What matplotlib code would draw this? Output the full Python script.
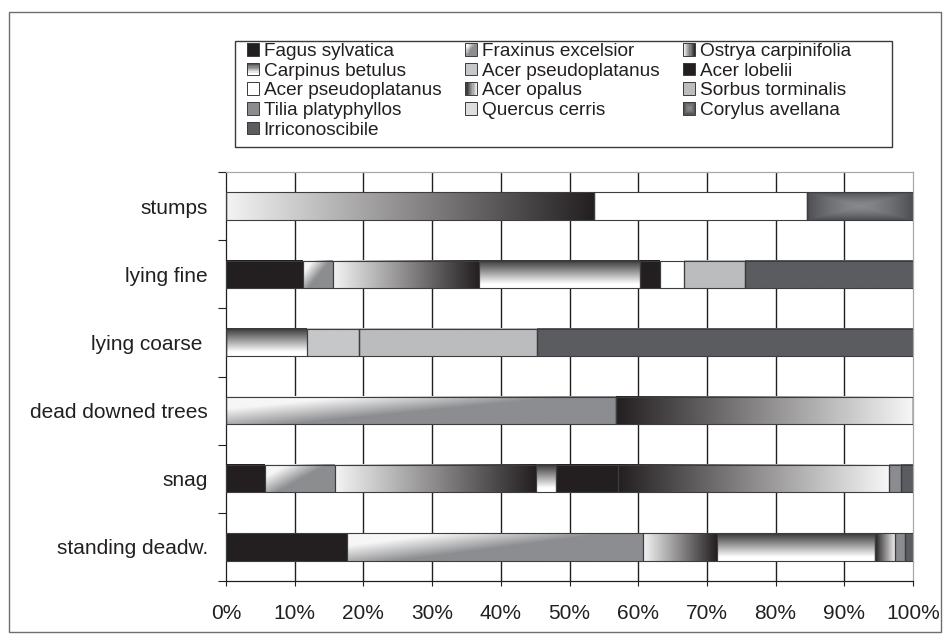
import numpy as np
import matplotlib
matplotlib.use('Agg')
import matplotlib.pyplot as plt
from matplotlib.patches import Rectangle
from matplotlib.colors import to_rgb
from matplotlib.legend_handler import HandlerBase


plt.rcParams['font.family'] = ['Liberation Sans', 'DejaVu Sans']

# ------------------------------------------------------------------------
#### Deadwood composition by species (% of volume)
categories = ['stumps', 'lying fine', 'lying coarse ', 'dead downed trees', 'snag', 'standing deadw.']

species = ['Fagus sylvatica', 'Fraxinus excelsior', 'Ostrya carpinifolia',
           'Carpinus betulus', 'Acer pseudoplatanus', 'Acer lobelii',
           'Acer pseudoplatanus', 'Acer opalus', 'Sorbus torminalis',
           'Tilia platyphyllos', 'Quercus cerris', 'Corylus avellana',
           'Irriconoscibile']

fagus          = [0.0, 11.2, 0.0, 0.0, 5.7, 17.6]
fraxinus       = [0.0, 4.4, 0.0, 56.8, 10.2, 43.1]
ostrya         = [53.5, 21.2, 0.0, 0.0, 29.2, 10.7]
carpinus       = [0.0, 23.4, 11.8, 0.0, 3.0, 23.0]
acer_pseudo_a  = [0.0, 0.0, 7.6, 0.0, 0.0, 0.0]
acer_lobelii   = [0.0, 3.0, 0.0, 0.0, 9.0, 0.0]
acer_pseudo_b  = [31.1, 3.5, 0.0, 0.0, 0.0, 0.0]
acer_opalus    = [0.0, 0.0, 0.0, 43.2, 39.4, 3.0]
sorbus         = [0.0, 8.9, 25.9, 0.0, 0.0, 0.0]
tilia          = [0.0, 0.0, 0.0, 0.0, 1.8, 1.4]
quercus        = [0.0, 0.0, 0.0, 0.0, 0.0, 0.0]
corylus        = [15.4, 0.0, 0.0, 0.0, 0.0, 0.0]
irriconoscibile = [0.0, 24.4, 54.7, 0.0, 1.7, 1.2]

series = [fagus, fraxinus, ostrya, carpinus, acer_pseudo_a, acer_lobelii,
          acer_pseudo_b, acer_opalus, sorbus, tilia, quercus, corylus,
          irriconoscibile]

xticks = np.arange(0, 101, 10)
xtick_labels = [f'{v}%' for v in xticks]

# fill style per species: solid, horizontal / vertical / diagonal gradient, box gradient
fills = [('solid', '#231f20'),
         ('diag', '#f6f6f6', '#8c8d90'),
         ('h', '#f4f4f4', '#231f20'),
         ('v', '#363435', '#ffffff'),
         ('solid', '#c6c7c9'),
         ('solid', '#231f20'),
         ('solid', '#ffffff'),
         ('h', '#231f20', '#f7f7f7'),
         ('solid', '#bbbcbe'),
         ('solid', '#8b8c8f'),
         ('solid', '#dcdddf'),
         ('box', '#88898c', '#4d4e52'),
         ('solid', '#5b5c60')]

text_col = '#231f20'


def shade(spec, u, v):
    # u: 0 left -> 1 right, v: 0 top -> 1 bottom
    kind = spec[0]
    if kind == 'solid':
        return np.broadcast_to(np.array(to_rgb(spec[1])), u.shape + (3,))
    if kind == 'h':
        t = u
    elif kind == 'v':
        t = np.clip(v / 0.85, 0, 1)
    elif kind == 'diag':
        t = np.clip(1.8 * u + 1.3 * v - 0.6, 0, 1)
    else:
        t = np.maximum(np.abs(2 * u - 1), np.abs(2 * v - 1)) ** 1.5
    c0 = np.array(to_rgb(spec[1]))
    c1 = np.array(to_rgb(spec[2]))
    return c0 * (1 - t)[..., None] + c1 * t[..., None]


class FillHandler(HandlerBase):
    def __init__(self, spec):
        super().__init__()
        self.spec = spec

    def create_artists(self, legend, orig_handle, xdescent, ydescent,
                       width, height, fontsize, trans):
        n = 10
        uu, vv = np.meshgrid((np.arange(n) + 0.5) / n, (np.arange(n) + 0.5) / n)
        cols = shade(self.spec, uu, vv)
        arts = []
        for j in range(n):
            for i in range(n):
                r = Rectangle((-xdescent + width * i / n, -ydescent + height * (1 - (j + 1) / n)),
                              width / n + 0.05, height / n + 0.05,
                              facecolor=cols[j, i], edgecolor='none', transform=trans)
                arts.append(r)
        arts.append(Rectangle((-xdescent, -ydescent), width, height, facecolor='none',
                              edgecolor='#3a3a3a', linewidth=0.7, transform=trans))
        return arts


fig = plt.figure(figsize=(9.5, 6.4), dpi=100)
W, H = 950.0, 640.0
ax = fig.add_axes([226 / W, 1 - 581 / H, (913 - 226) / W, (581 - 172) / H])

# outer frame and legend box
fig.patches.append(Rectangle((9 / W, 1 - 632 / H), 932 / W, 620 / H, transform=fig.transFigure,
                             facecolor='none', edgecolor='#6d6e71', linewidth=1.0))
fig.patches.append(Rectangle((235 / W, 1 - 147 / H), (892 - 235) / W, (147 - 41) / H,
                             transform=fig.transFigure, facecolor='none',
                             edgecolor='#3a3a3a', linewidth=1.0))

# ------------------------------------------------------------------------
#### stacked bars with gradient fills
ypos = np.arange(len(categories))[::-1]
left = np.zeros(len(categories))
bar_h = 0.4
for k, vals in enumerate(series):
    vals = np.array(vals)
    for c in range(len(categories)):
        if vals[c] <= 0:
            continue
        x0, x1 = left[c], left[c] + vals[c]
        y0, y1 = ypos[c] - bar_h / 2, ypos[c] + bar_h / 2
        nx, ny = 240, 40
        uu, vv = np.meshgrid((np.arange(nx) + 0.5) / nx, (np.arange(ny) + 0.5) / ny)
        img = shade(fills[k], uu, vv)
        ax.imshow(img, extent=(x0, x1, y0, y1), origin='upper', aspect='auto',
                  interpolation='bilinear', zorder=2)
    ax.barh(ypos, vals, left=left, height=bar_h, facecolor='none',
            edgecolor='#3d3d3f', linewidth=0.8, zorder=3)
    left += vals

ax.set_xlim(0, 100)
ax.set_ylim(-0.5, len(categories) - 0.5)

# vertical gridlines
for x in xticks[1:-1]:
    ax.axvline(x, color=text_col, linewidth=1.0, zorder=1)

ax.set_xticks(xticks)
ax.set_xticklabels(xtick_labels)
ax.tick_params(axis='x', direction='out', length=3.6, width=0.8, color=text_col,
               labelsize=15, labelcolor=text_col, pad=13)

ax.set_yticks(np.arange(len(categories) + 1) - 0.5)
ax.set_yticklabels([])
ax.set_yticks(ypos, minor=True)
ax.set_yticklabels(categories, minor=True)
ax.tick_params(axis='y', which='major', direction='out', length=5.8, width=0.8, color=text_col)
ax.tick_params(axis='y', which='minor', length=0, labelsize=15, labelcolor=text_col, pad=13)

for s in ['left', 'bottom']:
    ax.spines[s].set_color(text_col)
    ax.spines[s].set_linewidth(0.9)
for s in ['top', 'right']:
    ax.spines[s].set_color('#a7a9ac')
    ax.spines[s].set_linewidth(0.9)

# ------------------------------------------------------------------------
#### legend, row by row in three columns
handles = [Rectangle((0, 0), 1, 1) for _ in species]
hmap = {h: FillHandler(f) for h, f in zip(handles, fills)}
order = [0, 3, 6, 9, 12, 1, 4, 7, 10, 2, 5, 8, 11]
fig.legend([handles[i] for i in order], [species[i] for i in order], handler_map=hmap,
           ncol=3, loc='upper left', bbox_to_anchor=(247 / W, 1 - 43 / H),
           frameon=False, borderpad=0, borderaxespad=0, fontsize=13.7,
           handlelength=0.63, handleheight=0.63, handletextpad=0.25,
           columnspacing=1.25, labelspacing=0.14, labelcolor=text_col)

fig.savefig('out.png', dpi=100)
